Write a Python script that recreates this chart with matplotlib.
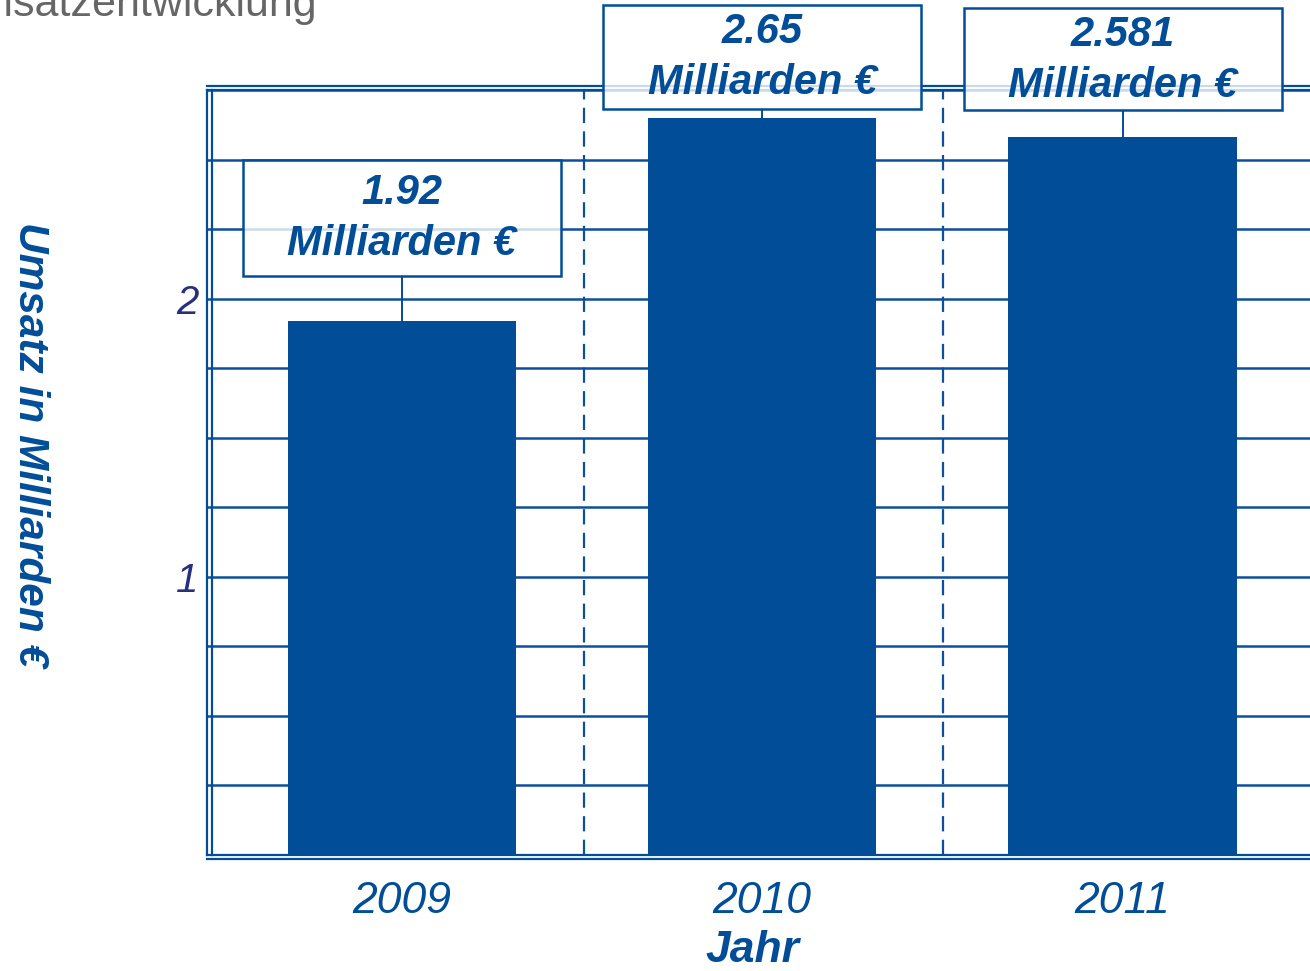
import matplotlib
matplotlib.use("Agg")
import matplotlib.pyplot as plt
from matplotlib.patches import Rectangle
from matplotlib.lines import Line2D
from matplotlib.ticker import MultipleLocator, FixedLocator
import matplotlib.transforms as mtransforms

plt.rcParams['font.family'] = ['Liberation Sans', 'DejaVu Sans']
plt.rcParams['lines.scale_dashes'] = False

# ---- data ----
years = ["2009", "2010", "2011"]
umsatz = [1.92, 2.65, 2.581]
label_values = ["1.92", "2.65", "2.581"]
label_unit = "Milliarden €"
title = "Umsatzentwicklung"
y_label = "Umsatz in Milliarden €"
x_label = "Jahr"

# ---- style ----
BLUE = "#024d98"
NAVY = "#27307f"
GRID = "#0d4f9f"
W, H = 1310, 971
fig = plt.figure(figsize=(W / 100, H / 100), dpi=100)

left, right, bottom, top = 207, 1310, 855, 90
ax = fig.add_axes([left / W, 1 - bottom / H, (right - left) / W, (bottom - top) / H])

x = list(range(len(years)))
ax.bar(x, umsatz, width=0.633, color=BLUE, zorder=3)
ax.set_xlim(-0.54, 2.52)
ax.set_ylim(0, 2.75)

# grid
ax.yaxis.set_major_locator(FixedLocator([1, 2]))
ax.yaxis.set_minor_locator(MultipleLocator(0.25))
ax.grid(axis='y', which='both', color=GRID, linewidth=1.8, zorder=1)
ax.set_axisbelow(True)
for xs in [0.505, 1.503]:
    ax.axvline(xs, color=GRID, linewidth=1.6, dashes=(11, 6), zorder=1)

# ticks
ax.set_xticks(x)
ax.set_xticklabels(years, fontsize=32, style='italic', color=BLUE)
ax.tick_params(axis='x', length=0, pad=19)
ax.set_yticklabels(["1", "2"], fontsize=29, style='italic', color=NAVY)
ax.tick_params(axis='y', which='both', length=0, pad=6)

# spines (double lines)
for s in ['left', 'bottom', 'top']:
    ax.spines[s].set_color(BLUE)
    ax.spines[s].set_linewidth(1.6)
ax.spines['right'].set_visible(False)
w_ax = (right - left)
h_ax = (bottom - top)
ax.add_line(Line2D([5 / w_ax, 5 / w_ax], [0, 1], transform=ax.transAxes, color=BLUE, lw=1.6, clip_on=False, zorder=4))
ax.add_line(Line2D([0, 1], [-4 / h_ax, -4 / h_ax], transform=ax.transAxes, color=BLUE, lw=1.6, clip_on=False, zorder=4))
ax.add_line(Line2D([0, 1], [1 + 4 / h_ax, 1 + 4 / h_ax], transform=ax.transAxes, color=BLUE, lw=1.6, clip_on=False, zorder=4))

# value labels (boxes)
offsets_px = [103, 61, 78]
box_h = [1.16, 1.04, 1.02]
for i, (v, lab) in enumerate(zip(umsatz, label_values)):
    t = fig.dpi_scale_trans + mtransforms.ScaledTranslation(i, v, ax.transData)
    off = offsets_px[i] / 100
    bw, bh = 3.18, box_h[i]
    ax.add_line(Line2D([0, 0], [0, off - bh / 2], transform=t, color=BLUE, lw=1.4, clip_on=False, zorder=5))
    rect = Rectangle((-bw / 2, off - bh / 2), bw, bh, transform=t, facecolor=(1, 1, 1, 0.8),
                     edgecolor=BLUE, linewidth=1.8, clip_on=False, zorder=6)
    ax.add_patch(rect)
    ax.text(0, off + 0.245, lab, transform=t, ha='center', va='center', fontsize=30,
            fontweight='bold', style='italic', color=BLUE, zorder=7, clip_on=False)
    ax.text(0, off - 0.265, label_unit, transform=t, ha='center', va='center', fontsize=30,
            fontweight='bold', style='italic', color=BLUE, zorder=7, clip_on=False)

# axis titles
fig.text(30 / W, 1 - 445 / H, y_label, rotation=270, ha='center', va='center', fontsize=30.5,
         fontweight='bold', style='italic', color=BLUE)
fig.text(752 / W, 1 - 950 / H, x_label, ha='center', va='center', fontsize=32,
         fontweight='bold', style='italic', color=BLUE)

# title (partly cut off)
fig.text(317 / W, 1 - 16 / H, title, ha='right', va='baseline', fontsize=31, color='#666666')

fig.savefig("out.png", dpi=100)
